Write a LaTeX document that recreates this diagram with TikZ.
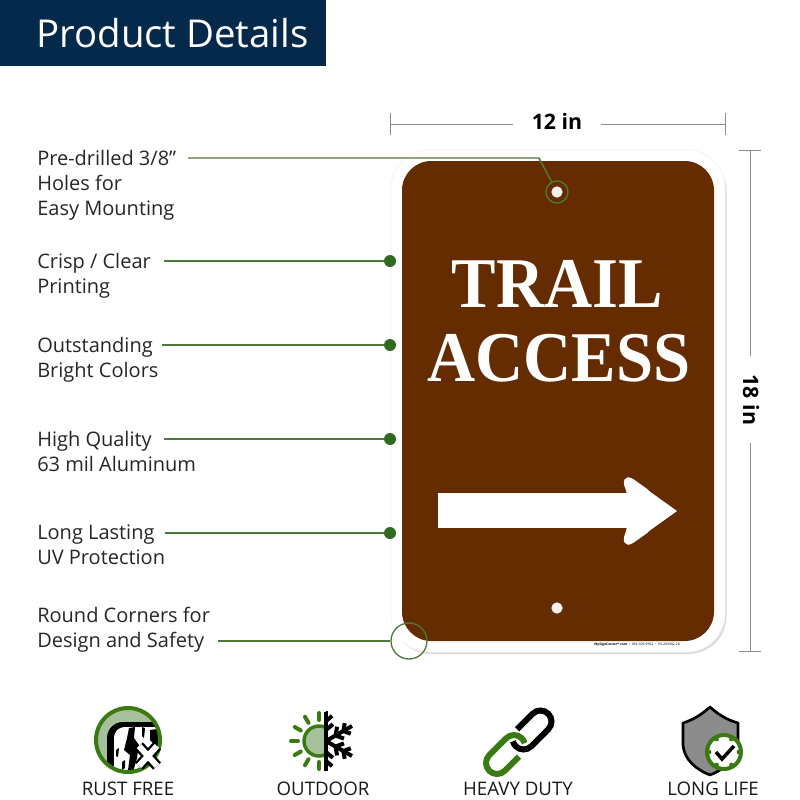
\documentclass[tikz,border=0pt]{standalone}
\usepackage{fontspec}
\setmainfont{Open Sans}
\newfontfamily\signfont{Liberation Serif}
\usetikzlibrary{positioning}
\definecolor{navyband}{HTML}{05294B}
\definecolor{signbrown}{HTML}{642C00}
\definecolor{leadgreen}{HTML}{4F7A3A}
\definecolor{dotgreen}{HTML}{2F6B1E}
\definecolor{iconpale}{HTML}{A5C09A}
\definecolor{icongreen}{HTML}{3A7A12}
\definecolor{dimgray}{HTML}{8C8C8C}
\tikzset{
  callout/.style={anchor=north west, align=left, inner sep=0pt, font=\fontsize{15}{18.7}\selectfont, text=black!85},
  leader/.style={leadgreen, line width=1.1pt},
  pindot/.style={circle, fill=dotgreen, minimum size=9pt, inner sep=0pt},
  ringmark/.style={circle, draw=leadgreen, line width=1pt, inner sep=0pt},
  dimline/.style={dimgray, line width=.75pt},
  dimtext/.style={inner sep=0pt, font=\bfseries\fontsize{16}{16}\selectfont},
  signtext/.style={inner sep=0pt, text=white, yscale=1.07, transform shape, font=\signfont\bfseries\fontsize{50}{50}\selectfont},
  holemark/.style={circle, fill=black!6, minimum size=8.5pt, inner sep=0pt},
  badge/.style={inner sep=0pt, font=\fontsize{14}{15}\selectfont, text=black!90}
}
\begin{document}
\begin{tikzpicture}[x=.75pt, y=-.75pt]
    \useasboundingbox (0,0) rectangle (800,800);
    \fill[navyband] (0,0) rectangle (326,66);
    \node[inner sep=0pt, anchor=base west, text=white, font=\fontsize{28.8}{30}\selectfont] (title) at (36,47) {Product Details};

    % sign
    \fill[black!14] (393,153) [rounded corners=28.5pt] rectangle (726.5,654);
    \fill[white, draw=black!5, line width=.5pt] (391,150) [rounded corners=28.5pt] rectangle (725,652);
    \fill[signbrown] (402,161) [rounded corners=22pt] rectangle (714,641);
    \node[signtext] (trail) at (557.5,284) {TRAIL};
    \node[signtext] (access) at (559,358) {ACCESS};
    \fill[white, rounded corners=2.5pt] (627,493) -- (623,482) -- (626,477) -- (631,477.5) -- (650,491) -- (650,531) -- (631,544.5) -- (626,545) -- (623,540) -- (627,528) -- cycle;
    \fill[white] (640,484.5) -- (677,511) -- (640,537.5) -- cycle;
    \fill[white] (438,493) rectangle (630,528);
    \node[holemark] (holeTop) at (557,192) {};
    \node[holemark] (holeBottom) at (557,608) {};
    \node[inner sep=0pt, anchor=east, font=\fontsize{2.5}{3}\selectfont] (web) at (680,644) {\textbf{MySignCenter*.com} $\cdot$ 866-929-9992 $\cdot$ HS-283082-28};

    % dimensions
    \node[dimtext] (width) at (557,121) {12 in};
    \node[dimtext, rotate=-90] (height) at (751,400) {18 in};
    \coordinate (wLeft) at (390,124);
    \coordinate (wRight) at (725,124);
    \coordinate (hTop) at (750,150);
    \coordinate (hBottom) at (750,651);
    \draw[dimline] (wLeft) -- (513,124) (601,124) -- (wRight);
    \draw[dimline] (390,113) -- (390,135) (725,113) -- (725,135);
    \draw[dimline] (hTop) -- (750,356) (750,443) -- (hBottom);
    \draw[dimline] (739,150) -- (761,150) (739,651) -- (761,651);

    % callouts
    \node[callout] (drilled) at (37,150) {Pre-drilled 3/8”\\Holes for\\Easy Mounting};
    \node[callout] (crisp) at (37,253) {Crisp / Clear\\Printing};
    \node[callout] (bright) at (37,337) {Outstanding\\Bright Colors};
    \node[callout] (quality) at (37,431) {High Quality\\63 mil Aluminum};
    \node[callout] (lasting) at (37,525) {Long Lasting\\UV Protection};
    \node[callout] (round) at (37,607) {Round Corners for\\Design and Safety};

    \node[ringmark, minimum size=16.5pt] (ringHole) at (557,192) {};
    \node[pindot] (dotCrisp) at (390,261) {};
    \node[pindot] (dotBright) at (390,345) {};
    \node[pindot] (dotQuality) at (390,439) {};
    \node[pindot] (dotLasting) at (390,533) {};
    \node[ringmark, minimum size=27pt] (ringCorner) at (409,641) {};
    \coordinate (fromDrilled) at (188,158);
    \coordinate (fromCrisp) at (164,261);
    \coordinate (fromBright) at (162,345);
    \coordinate (fromQuality) at (164,439);
    \coordinate (fromLasting) at (165,533);
    \coordinate (fromRound) at (218,641);
    \draw[leader] (fromDrilled) -- (539,158) -- (ringHole);
    \draw[leader] (fromCrisp) -- (dotCrisp);
    \draw[leader] (fromBright) -- (dotBright);
    \draw[leader] (fromQuality) -- (dotQuality);
    \draw[leader] (fromLasting) -- (dotLasting);
    \draw[leader] (fromRound) -- (ringCorner);

    % rust free
    \begin{scope}
      \clip (128,740) circle[radius=33];
      \fill[iconpale] (128,740) circle[radius=33];
      \fill[black, rounded corners=12pt] (107,722) rectangle (180,800);
      \fill[white, rounded corners=8pt] (114,727) rectangle (180,800);
      \fill[black] (129,728) -- (135,727) -- (134,738) -- (139,745) -- (137,758) -- (133,772) -- (128,770) -- (130,755) -- (124,750) -- (127,738) -- cycle;
      \fill[black] (142,727) -- (145,728) -- (144,738) -- (142,736) -- cycle;
      \fill[black] (150,730) -- (165,728) -- (165,748) -- (156,746) -- (150,740) -- cycle;
      \fill[black] (116,750) -- (119,748) -- (118,757) -- (116,756) -- cycle;
      \fill[black] (122,762) -- (125,760) -- (125,768) -- (122,770) -- cycle;
    \end{scope}
    \draw[icongreen, line width=3pt] (128,740) circle[radius=32];
    \draw[black, line width=8pt] (139,746) -- (157,766) (157,746) -- (139,766);
    \draw[white, line width=4.5pt] (139,746) -- (157,766) (157,746) -- (139,766);
    \node[badge] (rustLabel) at (128,789) {RUST FREE};

    % outdoor
    \begin{scope}
      \clip (280,700) rectangle (326,780);
      \draw[icongreen, fill=iconpale, line width=2.6pt] (319,741) circle[radius=15];
    \end{scope}
    \foreach \ang in {0,30,...,180}
      \draw[icongreen, line width=3pt, line cap=round] (319,741) ++(90+\ang:21) -- ++(90+\ang:7);
    \begin{scope}
      \clip (326,705) rectangle (360,778);
      \begin{scope}[shift={(326,741)}]
        \foreach \ang in {-90,-30,30,90} {
          \draw[black, line width=3pt] (0,0) -- (\ang:30);
          \draw[black, line width=3pt] (\ang:11) -- ++(\ang+50:9) (\ang:11) -- ++(\ang-50:9);
          \draw[black, line width=3pt] (\ang:20) -- ++(\ang+50:8) (\ang:20) -- ++(\ang-50:8);
        }
      \end{scope}
    \end{scope}
    \draw[black, line width=3pt] (326,712) -- (326,771);
    \node[badge] (outdoorLabel) at (323,789) {OUTDOOR};

    % heavy duty
    \begin{scope}[shift={(532,730)}, rotate=45, x=.75pt, y=.75pt]
      \draw[black, line width=4.5pt] (-10,11) -- (12,11) arc[start angle=90, end angle=-90, radius=8.25pt] -- (-12,-11) arc[start angle=270, end angle=150, radius=8.25pt];
    \end{scope}
    \begin{scope}[shift={(505.5,754.5)}, rotate=45, x=.75pt, y=.75pt]
      \draw[icongreen, line width=4.5pt] (8,-11) -- (-12,-11) arc[start angle=270, end angle=90, radius=8.25pt] -- (12,11) arc[start angle=90, end angle=-30, radius=8.25pt];
    \end{scope}
    \node[badge] (heavyLabel) at (518,789) {HEAVY DUTY};

    % long life
    \draw[black, fill=black!45, line width=2pt, line join=round] (710,707) .. controls (700,716) and (692,720) .. (683,723) -- (683,745) .. controls (684,760) and (697,770) .. (710,775) .. controls (723,770) and (736,760) .. (738,745) -- (738,723) .. controls (728,720) and (720,716) .. (710,707) -- cycle;
    \draw[icongreen, fill=white, line width=3pt] (724,752) circle[radius=17];
    \foreach \ang in {0,60,...,300}
      \fill[icongreen] (724,752) ++(\ang:15) circle[radius=2.4];
    \draw[black, line width=2.6pt] (716,752) -- (722,759) -- (734,746);
    \node[badge] (lifeLabel) at (713,789) {LONG LIFE};
\end{tikzpicture}
\end{document}
